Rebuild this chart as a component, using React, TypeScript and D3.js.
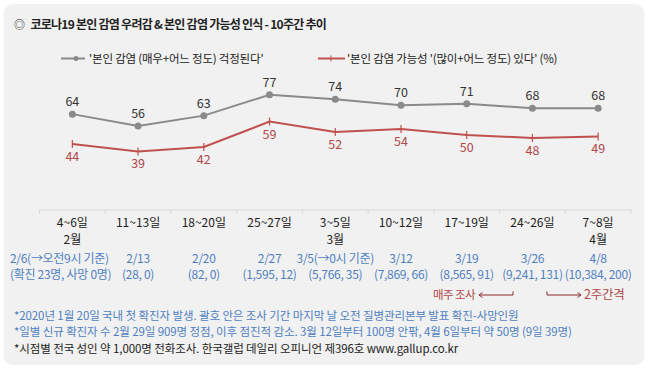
import * as d3 from "d3";
import React, { useRef, useEffect } from "react";

const weeks = ["4~6일", "11~13일", "18~20일", "25~27일", "3~5일", "10~12일", "17~19일", "24~26일", "7~8일"];
const months = ["2월", "", "", "", "3월", "", "", "", "4월"];
const worried = [64, 56, 63, 77, 74, 70, 71, 68, 68];
const possible = [44, 39, 42, 59, 52, 54, 50, 48, 49];
const dates = ["2/6(→오전9시 기준)", "2/13", "2/20", "2/27", "3/5(→0시 기준)", "3/12", "3/19", "3/26", "4/8"];
const cases = ["(확진 23명, 사망 0명)", "(28, 0)", "(82, 0)", "(1,595, 12)", "(5,766, 35)", "(7,869, 66)", "(8,565, 91)", "(9,241, 131)", "(10,384, 200)"];
const seriesNames = ["'본인 감염 (매우+어느 정도) 걱정된다'", "'본인 감염 가능성 '(많이+어느 정도) 있다' (%)"];
const notes = [
  "*2020년 1월 20일 국내 첫 확진자 발생. 괄호 안은 조사 기간 마지막 날 오전 질병관리본부 발표 확진-사망인원",
  "*일별 신규 확진자 수 2월 29일 909명 정점, 이후 점진적 감소. 3월 12일부터 100명 안팎, 4월 6일부터 약 50명 (9일  39명)",
  "*시점별 전국 성인 약 1,000명 전화조사. 한국갤럽 데일리 오피니언 제396호 www.gallup.co.kr",
];
const title = "코로나19 본인 감염 우려감 & 본인 감염 가능성 인식 - 10주간 추이";

const FONT = "'Noto Sans CJK KR', 'Noto Sans', sans-serif";

function App() {
  const ref = useRef<SVGSVGElement>(null);

  useEffect(() => {
    const svg = d3.select(ref.current);
    svg.selectAll("*").remove();
    draw(svg);
  }, []);

  const draw = (svg: any) => {
    const W = 648, H = 371;
    svg.attr("width", W).attr("height", H).style("font-family", FONT);

    svg.append("rect").attr("width", W).attr("height", H).attr("fill", "#fff");
    svg.append("rect")
      .attr("x", 3.5).attr("y", 4).attr("width", 641).attr("height", 361)
      .attr("rx", 9).attr("fill", "#f1f1f1");

    // title
    svg.append("text").attr("x", 14).attr("y", 29)
      .attr("font-size", 11).attr("fill", "#222").text("◎");
    svg.append("text").attr("x", 30.5).attr("y", 29)
      .attr("font-size", 12).attr("font-weight", "bold").attr("fill", "#222")
      .attr("letter-spacing", -0.75).text(title);

    const x = d3.scaleBand().domain(weeks).range([39.5, 631]);
    const cx = (i: number) => (x(weeks[i]) as number) + x.bandwidth() / 2;
    const y = d3.scaleLinear().domain([0, 100]).range([209.5, 60.5]);

    const gray = "#8a8a8a", red = "#c0504d", redText = "#b0474a", blue = "#4f7fc0";

    // axis
    const axis = svg.append("g").attr("transform", "translate(0,209.5)")
      .call(d3.axisBottom(x).tickSize(0).tickFormat(() => ""));
    axis.select(".domain").attr("stroke", "#d6d6d6");
    const bounds = weeks.map((w) => x(w) as number).concat([x.range()[1]]);
    axis.selectAll(".sep").data(bounds).enter().append("line")
      .attr("x1", (d: number) => d).attr("x2", (d: number) => d)
      .attr("y1", 0).attr("y2", 4).attr("stroke", "#d6d6d6");

    svg.append("g").selectAll("text").data(weeks).enter().append("text")
      .attr("x", (d: string, i: number) => cx(i)).attr("y", 227)
      .attr("text-anchor", "middle").attr("font-size", 12).attr("fill", "#222")
      .text((d: string) => d);
    svg.append("g").selectAll("text").data(months).enter().append("text")
      .attr("x", (d: string, i: number) => cx(i)).attr("y", 244)
      .attr("text-anchor", "middle").attr("font-size", 12).attr("fill", "#222")
      .text((d: string) => d);

    // date rows
    const row = (arr: string[], yy: number) =>
      svg.append("g").selectAll("text").data(arr).enter().append("text")
        .attr("x", (d: string, i: number) => (i === 0 ? 10 : cx(i)))
        .attr("y", yy)
        .attr("text-anchor", (d: string, i: number) => (i === 0 ? "start" : "middle"))
        .attr("font-size", 12).attr("fill", blue).attr("letter-spacing", -0.3)
        .text((d: string) => d);
    row(dates, 263);
    row(cases, 279);

    // lines
    const line = d3.line<number>().x((d, i) => cx(i)).y((d) => y(d));
    svg.append("path").datum(worried).attr("d", line)
      .attr("fill", "none").attr("stroke", gray).attr("stroke-width", 2);
    svg.append("path").datum(possible).attr("d", line)
      .attr("fill", "none").attr("stroke", red).attr("stroke-width", 2);

    svg.append("g").selectAll("circle").data(worried).enter().append("circle")
      .attr("cx", (d: number, i: number) => cx(i)).attr("cy", (d: number) => y(d))
      .attr("r", 3.5).attr("fill", gray);
    svg.append("g").selectAll("line").data(possible).enter().append("line")
      .attr("x1", (d: number, i: number) => cx(i)).attr("x2", (d: number, i: number) => cx(i))
      .attr("y1", (d: number) => y(d) - 4).attr("y2", (d: number) => y(d) + 4)
      .attr("stroke", red).attr("stroke-width", 1.2);

    svg.append("g").selectAll("text").data(worried).enter().append("text")
      .attr("x", (d: number, i: number) => cx(i)).attr("y", (d: number) => y(d) - 8)
      .attr("text-anchor", "middle").attr("font-size", 12.5).attr("fill", "#333")
      .text((d: number) => d);
    svg.append("g").selectAll("text").data(possible).enter().append("text")
      .attr("x", (d: number, i: number) => cx(i)).attr("y", (d: number) => y(d) + 17)
      .attr("text-anchor", "middle").attr("font-size", 12.5).attr("fill", redText)
      .text((d: number) => d);

    // legend
    const lg = svg.append("g");
    lg.append("line").attr("x1", 61).attr("x2", 85).attr("y1", 58.5).attr("y2", 58.5)
      .attr("stroke", gray).attr("stroke-width", 2);
    lg.append("circle").attr("cx", 76).attr("cy", 58.5).attr("r", 2.5).attr("fill", gray);
    lg.append("text").attr("x", 89).attr("y", 62.5).attr("font-size", 11.5).attr("fill", "#222")
      .attr("letter-spacing", -0.2).text(seriesNames[0]);
    lg.append("line").attr("x1", 318).attr("x2", 345).attr("y1", 58.5).attr("y2", 58.5)
      .attr("stroke", red).attr("stroke-width", 2);
    lg.append("line").attr("x1", 331).attr("x2", 331).attr("y1", 55.5).attr("y2", 61.5)
      .attr("stroke", red).attr("stroke-width", 1);
    lg.append("text").attr("x", 347).attr("y", 62.5).attr("font-size", 11.5).attr("fill", "#222")
      .attr("letter-spacing", -0.2).text(seriesNames[1]);

    // interval note
    const dark = "#8b2b2b";
    svg.append("text").attr("x", 433).attr("y", 298.5).attr("font-size", 11.5)
      .attr("fill", redText).attr("letter-spacing", -0.6).text("매주 조사");
    svg.append("path").attr("d", "M479,295H513V291.5").attr("fill", "none").attr("stroke", dark);
    svg.append("path").attr("d", "M482.5,292.5L479,295L482.5,297.5").attr("fill", "none").attr("stroke", dark);
    svg.append("path").attr("d", "M547,291.5V295H581").attr("fill", "none").attr("stroke", dark);
    svg.append("path").attr("d", "M577.5,292.5L581,295L577.5,297.5").attr("fill", "none").attr("stroke", dark);
    svg.append("text").attr("x", 584).attr("y", 298.5).attr("font-size", 12.5)
      .attr("fill", redText).attr("letter-spacing", -0.2).text("2주간격");

    // notes
    svg.append("g").selectAll("text").data(notes).enter().append("text")
      .attr("x", 14).attr("y", (d: string, i: number) => 319.5 + i * 16.5)
      .attr("font-size", 11.5).attr("letter-spacing", -0.1)
      .attr("fill", (d: string, i: number) => (i < 2 ? blue : "#222"))
      .text((d: string) => d);
  };

  return (
    <div style={{ position: "absolute", left: 0, top: 0 }}>
      <svg ref={ref}></svg>
    </div>
  );
}

export default App;
